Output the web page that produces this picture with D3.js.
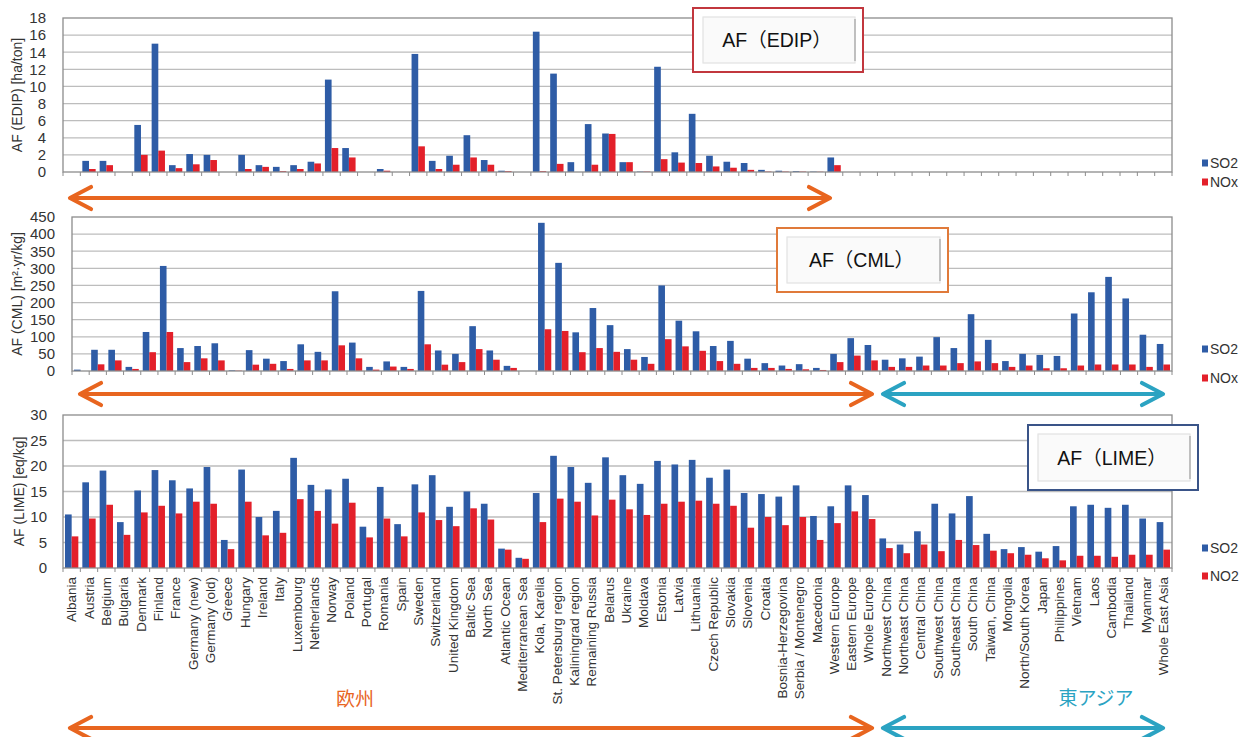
<!DOCTYPE html>
<html><head><meta charset="utf-8">
<script src="https://cdn.jsdelivr.net/npm/d3@7"></script>
<style>body{margin:0;background:#fff} svg{display:block}</style>
</head><body><svg id="c" width="1247" height="737"></svg>
<script>
const categories = ["Albania","Austria","Belgium","Bulgaria","Denmark","Finland","France","Germany (new)","Germany (old)","Greece",
"Hungary","Ireland","Italy","Luxembourg","Netherlands","Norway","Poland","Portugal","Romania","Spain",
"Sweden","Switzerland","United Kingdom","Baltic Sea","North Sea","Atlantic Ocean","Mediterranean Sea","Kola, Karelia","St. Petersburg region","Kaliningrad region",
"Remaining Russia","Belarus","Ukraine","Moldava","Estonia","Latvia","Lithuania","Czech Republic","Slovakia","Slovenia",
"Croatia","Bosnia-Herzegovina","Serbia / Montenegro","Macedonia","Western Europe","Eastern Europe","Whole Europe","Northwest China","Northeast China","Central China",
"Southwest China","Southeast China","South China","Taiwan, China","Mongolia","North/South Korea","Japan","Philippines","Vietnam","Laos",
"Cambodia","Thailand","Myanmar","Whole East Asia"];

const edipSO2 = [null,1.3,1.3,null,5.5,15.0,0.8,2.1,2.0,null,
2.0,0.8,0.6,0.8,1.2,10.8,2.8,null,0.35,null,
13.8,1.3,1.9,4.3,1.4,0.15,null,16.4,11.5,1.15,
5.6,4.5,1.15,0.05,12.3,2.3,6.8,1.9,1.2,1.05,
0.25,0.15,0.1,0.05,1.7,null,null,null,null,null,
null,null,null,null,null,null,null,null,null,null,
null,null,null,null];
const edipNOx = [null,0.35,0.8,null,2.0,2.5,0.45,0.9,1.4,null,
0.35,0.6,0.1,0.35,1.0,2.8,1.7,null,0.15,null,
3.0,0.35,0.85,1.7,0.85,0.1,null,0.1,0.95,null,
0.85,4.45,1.15,0.05,1.5,1.1,1.05,0.65,0.5,0.25,
0.05,0.05,0.05,0.03,0.8,null,null,null,null,null,
null,null,null,null,null,null,null,null,null,null,
null,null,null,null];

const cmlSO2 = [4,62,62,12,114,307,67,73,81,2,
61,36,29,78,56,233,83,12,28,12,
234,60,50,131,60,15,null,433,316,113,
184,134,64,41,250,147,116,73,88,36,
23,16,20,9,50,96,76,33,37,42,
99,67,166,91,29,50,47,44,168,230,
275,212,106,79];
const cmlNOx = [null,19.5,31,6,55,114,26,37,31,1,
18.5,21,6,31,31,75,37,4,13,6,
78,18.5,26,64,33,9,null,122,117,55,
67,56,33,21,93,72,59,29,21,9,
9,6,5,3,26,45,31,12,12,16,
16,23,28,23,12,16,8,8,16,19,
19,19,12,19];

const limeSO2 = [10.5,16.8,19.1,9.0,15.2,19.2,17.2,15.6,19.8,5.5,
19.3,10.0,11.2,21.6,16.3,15.4,17.5,8.1,15.9,8.6,
16.4,18.2,12.0,15.0,12.6,3.8,2.0,14.7,22.0,19.8,
16.7,21.7,18.2,16.5,21.0,20.3,21.2,17.7,19.3,14.7,
14.5,14.0,16.2,10.2,12.1,16.2,14.3,5.8,4.6,7.2,
12.6,10.7,14.1,6.7,3.7,4.1,3.2,4.3,12.1,12.4,
11.8,12.4,9.7,9.0];
const limeNO2 = [6.2,9.7,12.4,6.5,10.9,12.2,10.7,13.0,12.6,3.7,
13.0,6.4,6.9,13.5,11.2,8.7,12.8,6.0,9.7,6.2,
10.9,9.4,8.2,11.7,9.5,3.6,1.8,9.0,13.6,13.0,
10.3,13.4,11.5,10.4,12.6,13.0,13.2,12.6,12.2,7.9,
10.0,8.4,10.0,5.5,8.8,11.1,9.6,3.9,2.9,4.6,
3.3,5.5,4.5,3.4,2.9,2.6,1.9,1.5,2.4,2.4,
2.2,2.6,2.6,3.6];

const edipTicks = [0,2,4,6,8,10,12,14,16,18];
const cmlTicks = [0,50,100,150,200,250,300,350,400,450];
const limeTicks = [0,5,10,15,20,25,30];

const seriesNames1 = ["SO2","NOx"];
const seriesNames3 = ["SO2","NO2"];
const panelTitles = ["AF（EDIP）","AF（CML）","AF（LIME）"];
const yTitles = ["AF (EDIP) [ha/ton]","AF (CML) [m²·yr/kg]","AF (LIME) [eq/kg]"];
const regionLabels = ["欧州","東アジア"];

const C_SO2 = "#2E5CA6", C_NOX = "#E3202A";
const ORANGE = "#E8651F", TEAL = "#2BA3C2";
const FONT = '"Liberation Sans", Arial, Helvetica, sans-serif';
const CJK = '"Liberation Sans", "Noto Sans CJK JP", sans-serif';

const svg = d3.select("#c");

function panel(p){
  const g = svg.append("g");
  const x0 = d3.scaleBand().domain(categories).range([p.left, p.right]);
  const x1 = d3.scaleBand().domain([0,1]).range([0, x0.bandwidth()]).paddingOuter(0.3);
  const ymax = d3.max(p.ticks);
  const y = d3.scaleLinear().domain([0, ymax]).range([p.bottom, p.top]);

  g.selectAll("line.grid").data(p.ticks.filter(t => t > 0 && t < ymax)).join("line")
    .attr("x1", p.left).attr("x2", p.right)
    .attr("y1", d => y(d)).attr("y2", d => y(d))
    .attr("stroke", "#bdbdbd").attr("stroke-width", 1.3);

  const rows = categories.map((c, i) => ({c, v: [p.s1[i], p.s2[i]]}));
  const grp = g.selectAll("g.cat").data(rows).join("g").attr("transform", d => `translate(${x0(d.c)},0)`);
  grp.selectAll("rect").data(d => d.v.map((v, k) => ({v, k})).filter(e => e.v != null)).join("rect")
    .attr("x", e => x1(e.k)).attr("width", x1.bandwidth())
    .attr("y", e => y(e.v)).attr("height", e => y(0) - y(e.v))
    .attr("fill", e => e.k === 0 ? C_SO2 : C_NOX);

  g.append("rect").attr("x", p.left).attr("y", p.top).attr("width", p.right - p.left).attr("height", p.bottom - p.top)
    .attr("fill", "none").attr("stroke", "#8c8c8c").attr("stroke-width", 1.3);

  const bounds = categories.map(c => x0(c)).concat([p.right]);
  g.selectAll("line.xt").data(bounds).join("line")
    .attr("x1", d => d).attr("x2", d => d).attr("y1", p.bottom).attr("y2", p.bottom + 4)
    .attr("stroke", "#8c8c8c").attr("stroke-width", 1);

  const ya = g.append("g").attr("transform", `translate(${p.left},0)`)
    .call(d3.axisLeft(y).tickValues(p.ticks).tickSize(0).tickPadding(p.pad));
  ya.select(".domain").remove();
  ya.selectAll("text").attr("font-family", FONT).attr("font-size", 15).attr("fill", "#333");

  g.append("text").attr("transform", `translate(${p.titleX},${(p.top + p.bottom) / 2}) rotate(-90)`)
    .attr("text-anchor", "middle").attr("dy", "0.35em")
    .attr("font-family", FONT).attr("font-size", 14).attr("fill", "#333").text(p.yTitle);

  if (p.labels){
    const xa = g.append("g").attr("transform", `translate(0,${p.bottom})`)
      .call(d3.axisBottom(x0).tickSize(0).tickPadding(0));
    xa.select(".domain").remove();
    xa.selectAll("text").attr("transform", "rotate(-90)")
      .attr("x", -9).attr("y", 0).attr("dy", "0.35em").attr("text-anchor", "end")
      .attr("font-family", FONT).attr("font-size", 13.5).attr("fill", "#333");
  }

  p.names.forEach((n, k) => {
    const ly = p.legY[k];
    g.append("rect").attr("x", 1202).attr("y", ly - 3.5).attr("width", 6).attr("height", 7)
      .attr("fill", k === 0 ? C_SO2 : C_NOX);
    g.append("text").attr("x", 1210).attr("y", ly).attr("dy", "0.35em")
      .attr("font-family", FONT).attr("font-size", 14).attr("fill", "#333").text(n);
  });

  const b = p.box;
  g.append("rect").attr("x", b.x).attr("y", b.y).attr("width", b.w).attr("height", b.h)
    .attr("fill", "#fff").attr("stroke", b.color).attr("stroke-width", 2);
  g.append("rect").attr("x", b.x + 10).attr("y", b.y + 9).attr("width", b.w - 18).attr("height", b.h - 18)
    .attr("fill", "#fafafa").attr("stroke", "#e2e2e2").attr("stroke-width", 1.2);
  g.append("line").attr("x1", b.x + b.w - 8).attr("x2", b.x + b.w - 8).attr("y1", b.y + 11).attr("y2", b.y + b.h - 11)
    .attr("stroke", "#b0b0b0").attr("stroke-width", 1.5);
  g.append("text").attr("x", b.x + b.w / 2 - 1).attr("y", b.y + b.h / 2).attr("dy", "0.36em")
    .attr("text-anchor", "middle").attr("font-family", CJK).attr("font-size", 19.5).attr("fill", "#111").text(p.boxText);
}

function arrow(xa, xb, y, color){
  const g = svg.append("g").attr("stroke", color).attr("stroke-width", 4.2).attr("fill", "none")
    .attr("stroke-linecap", "round").attr("stroke-linejoin", "round");
  g.append("line").attr("x1", xa + 2).attr("x2", xb - 2).attr("y1", y).attr("y2", y);
  g.append("polyline").attr("points", `${xa + 21},${y - 11} ${xa},${y} ${xa + 21},${y + 11}`);
  g.append("polyline").attr("points", `${xb - 21},${y - 11} ${xb},${y} ${xb - 21},${y + 11}`);
}

panel({left: 63, right: 1172, top: 18, bottom: 172, ticks: edipTicks, s1: edipSO2, s2: edipNOx, pad: 17,
  titleX: 17, yTitle: yTitles[0], names: seriesNames1, legY: [163, 182], labels: false,
  box: {x: 693, y: 8, w: 170, h: 64, color: "#C2373E"}, boxText: panelTitles[0]});
panel({left: 72, right: 1172, top: 217, bottom: 371, ticks: cmlTicks, s1: cmlSO2, s2: cmlNOx, pad: 17,
  titleX: 17, yTitle: yTitles[1], names: seriesNames1, legY: [349, 378], labels: false,
  box: {x: 777, y: 228, w: 171, h: 64, color: "#E07A3A"}, boxText: panelTitles[1]});
panel({left: 63, right: 1172, top: 415, bottom: 568, ticks: limeTicks, s1: limeSO2, s2: limeNO2, pad: 16,
  titleX: 19, yTitle: yTitles[2], names: seriesNames3, legY: [548, 576], labels: true,
  box: {x: 1028, y: 425, w: 170, h: 65, color: "#3A5488"}, boxText: panelTitles[2]});

arrow(70, 830, 198, ORANGE);
arrow(80, 872, 394, ORANGE);
arrow(883, 1163, 394, TEAL);
arrow(70, 872, 728, ORANGE);
arrow(883, 1163, 728, TEAL);

svg.append("text").attr("x", 355).attr("y", 699).attr("dy", "0.35em").attr("text-anchor", "middle")
  .attr("font-family", '"Noto Sans CJK JP", sans-serif').attr("font-size", 19).attr("fill", ORANGE).text(regionLabels[0]);
svg.append("text").attr("x", 1096).attr("y", 698).attr("dy", "0.35em").attr("text-anchor", "middle")
  .attr("font-family", '"Noto Sans CJK JP", sans-serif').attr("font-size", 19).attr("fill", TEAL).text(regionLabels[1]);
</script></body></html>
